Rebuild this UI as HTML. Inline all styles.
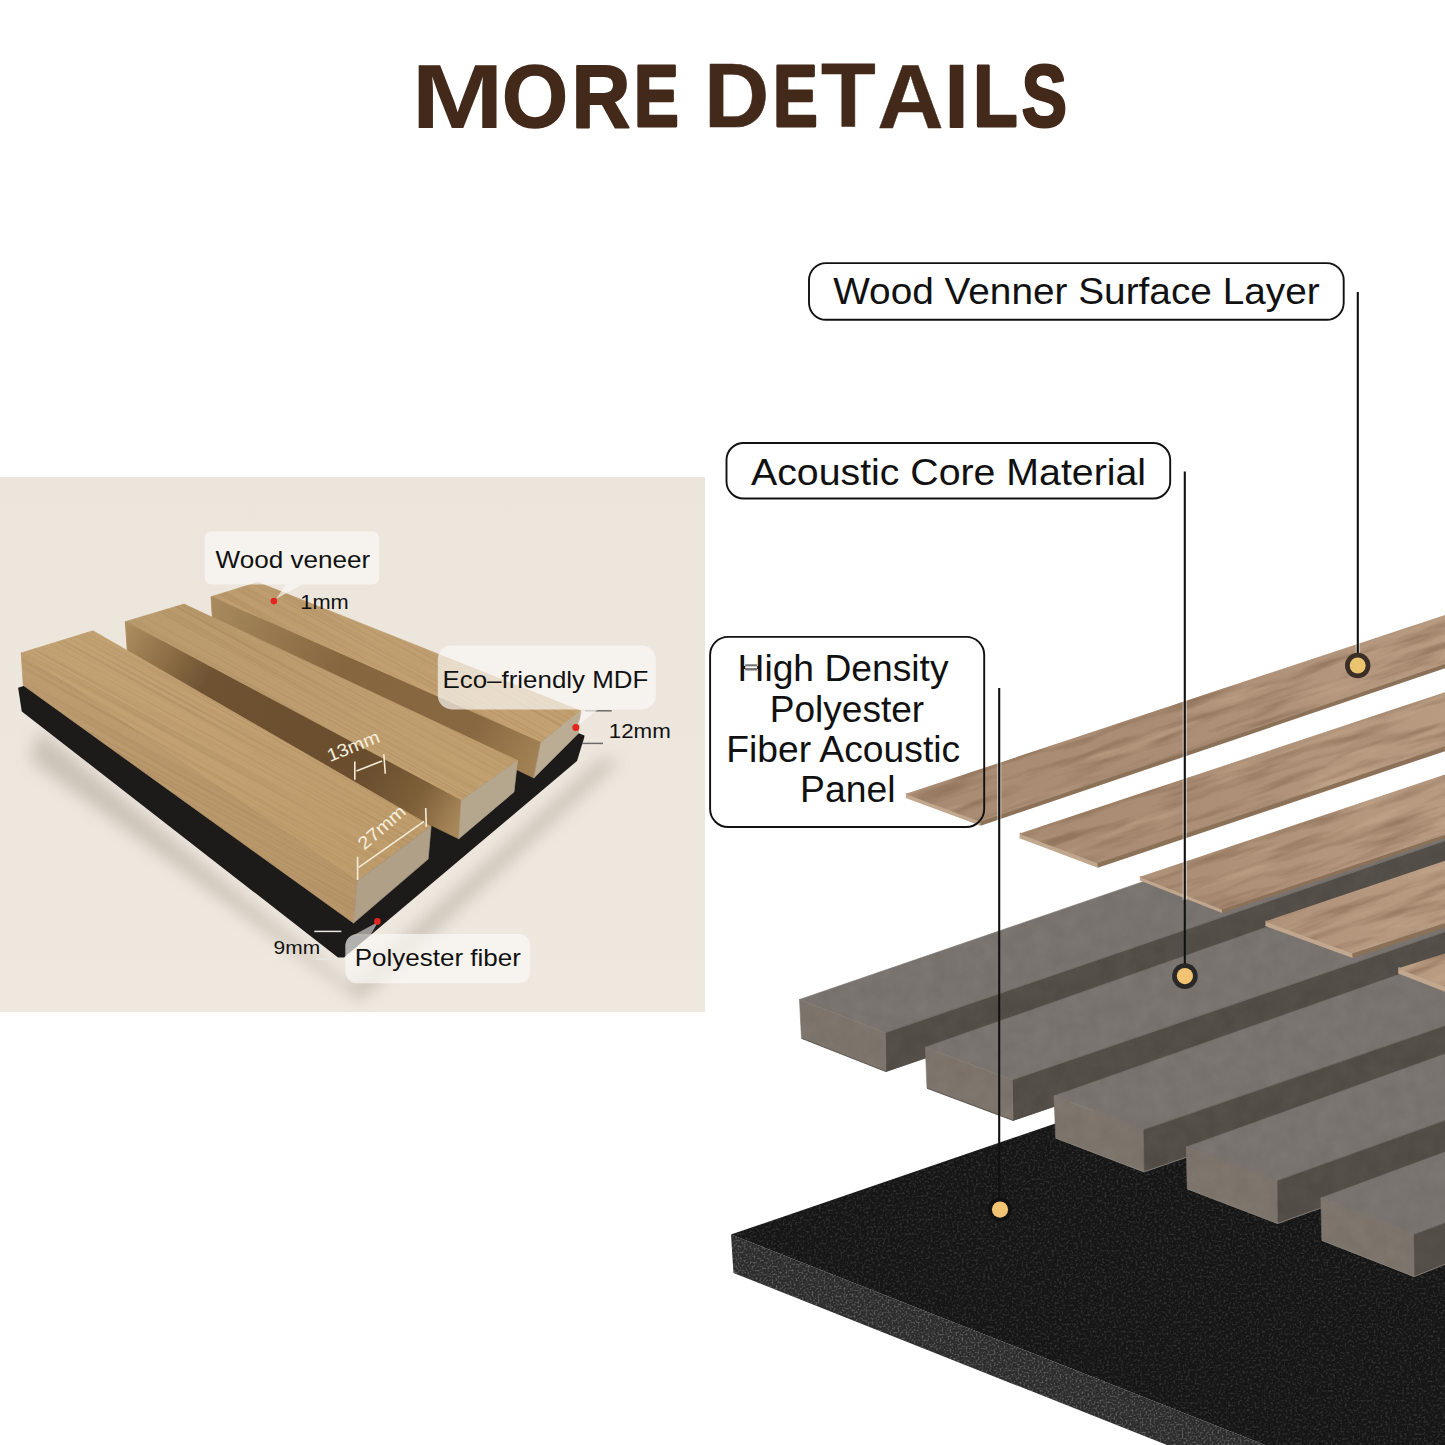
<!DOCTYPE html>
<html><head><meta charset="utf-8">
<style>
html,body{margin:0;padding:0;background:#fff;}
#c{position:relative;width:1445px;height:1445px;overflow:hidden;background:#fff;}
svg{position:absolute;left:0;top:0;display:block;}
text{font-family:"Liberation Sans",sans-serif;}
.mt{fill:#78736e;stroke:#78736e;stroke-width:0.6;}
.ms{fill:#524c47;stroke:#524c47;stroke-width:0.6;}
.mf{fill:#7c736b;stroke:#7c736b;stroke-width:0.6;}
.med{fill:none;stroke:#4a4541;stroke-width:1;stroke-opacity:0.7;}
.me{fill:none;stroke:#8e8780;stroke-width:1;stroke-opacity:0.8;}
.me2{fill:none;stroke:#858079;stroke-width:0.8;stroke-opacity:0.6;}
.vt{fill:url(#vtg);}
.ve{fill:#c2a78f;}
.vs{fill:#8c7159;}
</style></head>
<body><div id="c">
<svg width="1445" height="1445" viewBox="0 0 1445 1445">
<defs>
<linearGradient id="vtg" gradientUnits="userSpaceOnUse" x1="900" y1="0" x2="1445" y2="0"><stop offset="0" stop-color="#a88b72"/><stop offset="0.5" stop-color="#aa8d74"/><stop offset="1" stop-color="#b89b81"/></linearGradient>
<linearGradient id="bgg" x1="0" y1="0" x2="0" y2="1"><stop offset="0" stop-color="#ece5dc"/><stop offset="1" stop-color="#efe8df"/></linearGradient>
<linearGradient id="l1t" x1="0" y1="0" x2="1" y2="1"><stop offset="0" stop-color="#c3a273"/><stop offset="0.5" stop-color="#c2a071"/><stop offset="1" stop-color="#bf9c6a"/></linearGradient>
<linearGradient id="l1s" x1="0" y1="0" x2="1" y2="1"><stop offset="0" stop-color="#bd9c70"/><stop offset="1" stop-color="#b8966a"/></linearGradient>
<linearGradient id="l2t" x1="0" y1="0" x2="1" y2="1"><stop offset="0" stop-color="#b99b6e"/><stop offset="1" stop-color="#c3a170"/></linearGradient>
<linearGradient id="l2s" gradientUnits="userSpaceOnUse" x1="125" y1="630" x2="460" y2="820"><stop offset="0" stop-color="#ab8d60"/><stop offset="0.12" stop-color="#8f7047"/><stop offset="0.25" stop-color="#6e5232"/><stop offset="0.72" stop-color="#694d2d"/><stop offset="0.88" stop-color="#7e6039"/><stop offset="1" stop-color="#a8875a"/></linearGradient>
<linearGradient id="l3t" x1="0" y1="0" x2="1" y2="1"><stop offset="0" stop-color="#bd9d6f"/><stop offset="1" stop-color="#c5a272"/></linearGradient>
<linearGradient id="l3s" gradientUnits="userSpaceOnUse" x1="211" y1="600" x2="540" y2="760"><stop offset="0" stop-color="#a88a5e"/><stop offset="0.4" stop-color="#85663e"/><stop offset="0.8" stop-color="#886840"/><stop offset="1" stop-color="#a38255"/></linearGradient>

<filter id="oakgrain" x="0" y="0" width="1" height="1" color-interpolation-filters="sRGB">
<feTurbulence type="fractalNoise" baseFrequency="0.003 0.55" numOctaves="3" seed="3" result="n"/>
<feColorMatrix type="matrix" values="0 0 0 0 0.45  0 0 0 0 0.33  0 0 0 0 0.18  0 0 0 -2.2 1.25"/>
</filter>
<filter id="blur8" x="-20%" y="-20%" width="140%" height="140%"><feGaussianBlur stdDeviation="8"/></filter>
<filter id="vgrain" x="0" y="0" width="1" height="1" color-interpolation-filters="sRGB">
<feTurbulence type="fractalNoise" baseFrequency="0.012 0.11" numOctaves="4" seed="7"/>
<feColorMatrix type="matrix" values="0 0 0 0 0.50  0 0 0 0 0.38  0 0 0 0 0.29  2.6 0 0 0 -1.15"/>
</filter>
<filter id="vgrain2" x="0" y="0" width="1" height="1" color-interpolation-filters="sRGB">
<feTurbulence type="fractalNoise" baseFrequency="0.01 0.09" numOctaves="3" seed="11"/>
<feColorMatrix type="matrix" values="0 0 0 0 0.85  0 0 0 0 0.74  0 0 0 0 0.62  -2.4 0 0 0 1.0"/>
</filter>
<filter id="speck" x="0" y="0" width="1" height="1" color-interpolation-filters="sRGB">
<feTurbulence type="fractalNoise" baseFrequency="0.42" numOctaves="2" seed="5"/>
<feColorMatrix type="matrix" values="0 0 0 0 0.4  0 0 0 0 0.4  0 0 0 0 0.4  3.2 0 0 0 -1.55"/>
<feGaussianBlur stdDeviation="0.45"/>
</filter>
<filter id="speck2" x="0" y="0" width="1" height="1" color-interpolation-filters="sRGB">
<feTurbulence type="fractalNoise" baseFrequency="0.5" numOctaves="2" seed="9"/>
<feColorMatrix type="matrix" values="0 0 0 0 0.55  0 0 0 0 0.55  0 0 0 0 0.55  3.0 0 0 0 -1.35"/>
<feGaussianBlur stdDeviation="0.4"/>
</filter>




<filter id="mdfn2" x="0" y="0" width="1" height="1" color-interpolation-filters="sRGB">
<feTurbulence type="fractalNoise" baseFrequency="0.06" numOctaves="4" seed="4"/>
<feColorMatrix type="matrix" values="1.2 0 0 0 -0.1  1.2 0 0 0 -0.1  1.2 0 0 0 -0.1  0 0 0 0 0.035"/>
</filter>
<pattern id="pM" patternUnits="userSpaceOnUse" x="0" y="0" width="1445" height="1445">
<rect x="780" y="760" width="680" height="540" filter="url(#mdfn2)"/>
</pattern>
<pattern id="pV" patternUnits="userSpaceOnUse" x="0" y="0" width="1445" height="1445">
<rect x="800" y="450" width="800" height="700" transform="rotate(-18.5 1200 800)" filter="url(#vgrain)" opacity="0.55"/>
<rect x="800" y="450" width="800" height="700" transform="rotate(-18.5 1200 800)" filter="url(#vgrain2)" opacity="0.45"/>
</pattern>
<pattern id="pL" patternUnits="userSpaceOnUse" x="0" y="0" width="1445" height="1445">
<rect x="-200" y="300" width="1100" height="700" transform="rotate(29 300 750)" filter="url(#oakgrain)" opacity="0.2"/>
</pattern>
<pattern id="pBT" patternUnits="userSpaceOnUse" x="0" y="0" width="1445" height="1445">
<rect x="720" y="980" width="730" height="470" filter="url(#speck)" opacity="0.35"/>
</pattern>
<pattern id="pBF" patternUnits="userSpaceOnUse" x="0" y="0" width="1445" height="1445">
<rect x="720" y="1220" width="560" height="230" filter="url(#speck2)" opacity="0.55"/>
</pattern>
</defs>
<!-- Title -->
<g font-size="89" font-weight="bold" fill="#42291a" stroke="#42291a" stroke-linejoin="round">
<text transform="translate(411.20 127.70) scale(1.2500 1.0299)" stroke-width="0.00">M</text>
<text transform="translate(502.04 126.96) scale(0.9540 1.0053)" stroke-width="1.48">O</text>
<text transform="translate(571.65 126.62) scale(0.9103 0.9939)" stroke-width="2.18">R</text>
<text transform="translate(634.09 126.23) scale(0.7528 0.9810)" stroke-width="3.00">E</text>
<text transform="translate(704.01 127.39) scale(1.0145 1.0197)" stroke-width="0.60">D</text>
<text transform="translate(772.99 126.23) scale(0.7528 0.9810)" stroke-width="3.00">E</text>
<text transform="translate(821.09 127.33) scale(1.0057 1.0177)" stroke-width="0.72">T</text>
<text transform="translate(877.13 127.52) scale(1.0333 1.0240)" stroke-width="0.35">A</text>
<text transform="translate(945.03 126.80) scale(0.9333 1.0000)" stroke-width="1.80">I</text>
<text transform="translate(973.24 126.23) scale(0.8143 0.9810)" stroke-width="3.00">L</text>
<text transform="translate(1021.74 126.23) scale(0.7607 0.9810)" stroke-width="3.00">S</text>
</g>

<!-- ===== LEFT PHOTO ===== -->
<g id="photo">
<rect x="0" y="477" width="705" height="535" fill="url(#bgg)"/>
<!-- shadow under felt -->
<polygon points="40,730 350,985 600,760 620,760 360,1000 30,760" fill="#8c8070" opacity="0.35" filter="url(#blur8)"/>
<!-- felt -->
<polygon points="18.1,687.8 262,608 584.4,735.5 584.4,737 577,761 344,957.5 338,957.5 21.8,711.4" fill="#1d1b1a"/>
<!-- L3 -->
<polygon points="211,596.8 257.8,582.3 580.6,710.8 540.8,742.6" fill="url(#l3t)" stroke="url(#l3t)" stroke-width="0.8"/>
<polygon points="211,596.8 540.8,742.6 533.9,777.9 480,752 213,628" fill="url(#l3s)" stroke="url(#l3s)" stroke-width="0.8"/>
<polygon points="540.8,742.6 580.6,710.8 578.2,733.6 533.9,777.9" fill="#bbad94" stroke="#bbad94" stroke-width="0.6"/>
<!-- L2 -->
<polygon points="125.3,621.7 184.1,604.1 517.6,760.6 461.2,800.6" fill="url(#l2t)" stroke="url(#l2t)" stroke-width="0.8"/>
<polygon points="125.3,621.7 461.2,800.6 458.8,838.8 400,810 128,662" fill="url(#l2s)" stroke="url(#l2s)" stroke-width="0.8"/>
<polygon points="461.2,800.6 517.6,760.6 514,792 458.8,838.8" fill="#b5a78d" stroke="#b5a78d" stroke-width="0.6"/>
<!-- L1 -->
<polygon points="21.2,652.9 93,630.8 431.1,826.2 357.4,880.9" fill="url(#l1t)" stroke="url(#l1t)" stroke-width="0.8"/>
<polygon points="21.2,652.9 357.4,880.9 353.6,923 23.3,685.3" fill="url(#l1s)" stroke="url(#l1s)" stroke-width="0.8"/>
<polygon points="357.4,880.9 431.1,826.2 428.2,859.1 353.6,923" fill="#afa087" stroke="#afa087" stroke-width="0.6"/>
<!-- grain overlays -->
<g fill="url(#pL)">
<polygon points="211,596.8 257.8,582.3 580.6,710.8 540.8,742.6"/>
<polygon points="125.3,621.7 184.1,604.1 517.6,760.6 461.2,800.6"/>
<polygon points="21.2,652.9 93,630.8 431.1,826.2 357.4,880.9"/>
<polygon points="21.2,652.9 357.4,880.9 353.6,923 23.3,685.3"/>
</g>
<!-- dimension marks -->
<g stroke="#f3ecd8" stroke-width="1.6" fill="none">
<line x1="354.8" y1="761.5" x2="354.8" y2="779.8"/>
<line x1="383.8" y1="754.3" x2="385.3" y2="773.7"/>
<line x1="356.5" y1="770.9" x2="382" y2="761"/>
<line x1="357.6" y1="856.8" x2="357.6" y2="880"/>
<line x1="425.7" y1="808" x2="426.3" y2="826.9"/>
<line x1="358.7" y1="867.3" x2="424" y2="821.3"/>
</g>
<g fill="#f5efdc" font-size="18">
<text transform="translate(329.9 762.1) rotate(-21.9)" textLength="55" lengthAdjust="spacingAndGlyphs">13mm</text>
<text transform="translate(364.3 850.7) rotate(-41.1)" textLength="57" lengthAdjust="spacingAndGlyphs">27mm</text>
</g>
<!-- 12mm / 9mm lines -->
<g stroke="#6d6a66" stroke-width="1.5">
<line x1="584.8" y1="710.8" x2="611.7" y2="710.8"/>
<line x1="582.2" y1="743.4" x2="603" y2="743.4"/>
</g>
<g stroke="#e9e6e0" stroke-width="1.5">
<line x1="314.3" y1="931.4" x2="341.4" y2="931.4"/>
<line x1="316.2" y1="959.1" x2="343.3" y2="959.1"/>
</g>
<!-- label boxes -->
<g fill="#fbf9f6" fill-opacity="0.68">
<rect x="204.7" y="531.2" width="174.4" height="53.3" rx="7"/>
<polygon points="276,599 286,584.5 302,584.5"/>
<rect x="437.8" y="645.4" width="218" height="64" rx="14"/>
<polygon points="577,726 584,709.4 598,709.4"/>
<rect x="345.3" y="933.9" width="185" height="49.4" rx="12"/>
</g>
<polygon points="378,922 352,936 370,936" fill="#b9b6b2" fill-opacity="0.8"/>
<g fill="#e0261f">
<circle cx="273.9" cy="601.1" r="3.3"/>
<circle cx="575.8" cy="727.4" r="3.5"/>
<circle cx="377.4" cy="921.4" r="3.3"/>
</g>
<g fill="#111">
<text x="215.6" y="567.9" font-size="24" textLength="154.5" lengthAdjust="spacingAndGlyphs">Wood veneer</text>
<text x="300.3" y="608.7" font-size="21" textLength="48.5" lengthAdjust="spacingAndGlyphs">1mm</text>
<text x="442.5" y="687.8" font-size="24" textLength="205.8" lengthAdjust="spacingAndGlyphs">Eco&#8211;friendly MDF</text>
<text x="608.8" y="738" font-size="20.8" textLength="62" lengthAdjust="spacingAndGlyphs">12mm</text>
<text x="354.7" y="965.9" font-size="24" textLength="166.3" lengthAdjust="spacingAndGlyphs">Polyester fiber</text>
<text x="273.6" y="954.3" font-size="18.7" textLength="46.5" lengthAdjust="spacingAndGlyphs">9mm</text>
</g>
</g>

<!-- ===== RIGHT DIAGRAM ===== -->
<g id="diagram">
<!-- black panel -->
<polygon points="731,1234.5 1460,985 1460,1445 1265,1445" fill="#161616"/>
<polygon points="731,1234.5 1265,1445 1167,1445 733.5,1273" fill="#2b2b2b"/>
<polygon points="731,1234.5 1460,985 1460,1445 1265,1445" fill="url(#pBT)"/>
<polygon points="731,1234.5 1265,1445 1167,1445 733.5,1273" fill="url(#pBF)"/>
<!-- MDF slats -->
<g id="slats">
<polygon class="mt" points="799.5,999.5 885.2,1032.7 1460.0,835.5 1460.0,772.9"/>
<polygon class="ms" points="885.2,1032.7 885.9,1071.5 1460.0,874.6 1460.0,835.5"/>
<polygon class="mf" points="799.5,999.5 885.2,1032.7 885.9,1071.5 801.5,1038.3"/>
<polygon fill="url(#pM)" points="799.5,999.5 1460.0,772.9 1460.0,874.6 885.9,1071.5 801.5,1038.3"/>
<polyline class="med" points="801.5,1038.3 885.9,1071.5 1460.0,874.6"/>
<polyline class="me2" points="799.5,999.5 885.2,1032.7 1460.0,835.5"/>
<polygon class="mt" points="925.3,1047.3 1012.1,1079.9 1460.0,926.7 1460.0,859.1"/>
<polygon class="ms" points="1012.1,1079.9 1013.1,1120.4 1460.0,967.6 1460.0,926.7"/>
<polygon class="mf" points="925.3,1047.3 1012.1,1079.9 1013.1,1120.4 927.0,1088.2"/>
<polygon fill="url(#pM)" points="925.3,1047.3 1460.0,859.1 1460.0,967.6 1013.1,1120.4 927.0,1088.2"/>
<polyline class="med" points="927.0,1088.2 1013.1,1120.4 1460.0,967.6"/>
<polyline class="me2" points="925.3,1047.3 1012.1,1079.9 1460.0,926.7"/>
<polygon class="mt" points="1054.0,1095.9 1143.3,1129.8 1460.0,1020.5 1460.0,953.0"/>
<polygon class="ms" points="1143.3,1129.8 1144.0,1171.9 1460.0,1062.9 1460.0,1020.5"/>
<polygon class="mf" points="1054.0,1095.9 1143.3,1129.8 1144.0,1171.9 1055.7,1138.0"/>
<polygon fill="url(#pM)" points="1054.0,1095.9 1460.0,953.0 1460.0,1062.9 1144.0,1171.9 1055.7,1138.0"/>
<polyline class="me" points="1055.7,1138.0 1144.0,1171.9 1460.0,1062.9"/>
<polyline class="me2" points="1054.0,1095.9 1143.3,1129.8 1460.0,1020.5"/>
<polygon class="mt" points="1186.3,1147.0 1277.0,1180.7 1460.0,1115.0 1460.0,1048.7"/>
<polygon class="ms" points="1277.0,1180.7 1277.6,1223.5 1460.0,1158.0 1460.0,1115.0"/>
<polygon class="mf" points="1186.3,1147.0 1277.0,1180.7 1277.6,1223.5 1187.2,1188.8"/>
<polygon fill="url(#pM)" points="1186.3,1147.0 1460.0,1048.7 1460.0,1158.0 1277.6,1223.5 1187.2,1188.8"/>
<polyline class="me" points="1187.2,1188.8 1277.6,1223.5 1460.0,1158.0"/>
<polyline class="me2" points="1186.3,1147.0 1277.0,1180.7 1460.0,1115.0"/>
<polygon class="mt" points="1320.8,1198.0 1413.7,1234.6 1460.0,1217.0 1460.0,1146.5"/>
<polygon class="ms" points="1413.7,1234.6 1414.2,1276.6 1460.0,1258.3 1460.0,1217.0"/>
<polygon class="mf" points="1320.8,1198.0 1413.7,1234.6 1414.2,1276.6 1321.8,1240.3"/>
<polygon fill="url(#pM)" points="1320.8,1198.0 1460.0,1146.5 1460.0,1258.3 1414.2,1276.6 1321.8,1240.3"/>
<polyline class="me" points="1321.8,1240.3 1414.2,1276.6 1460.0,1258.3"/>
<polyline class="me2" points="1320.8,1198.0 1413.7,1234.6 1460.0,1217.0"/>
</g>
<!-- veneers -->
<g id="veneers">
<polygon class="vs" points="977.1,820.2 980.7,825.7 1460.0,663.2 1460.0,657.5"/>
<polygon class="ve" points="906.3,792.9 980.1,820.2 980.7,825.7 905.7,798.1"/>
<polygon class="vt" points="905.3,794.1 980.1,821.7 1460.0,659.0 1460.0,609.9"/>
<polygon class="vs" points="1094.2,861.8 1097.8,867.8 1460.0,746.1 1460.0,739.9"/>
<polygon class="ve" points="1020.0,832.5 1097.2,861.8 1097.8,867.8 1019.4,838.2"/>
<polygon class="vt" points="1019.0,833.7 1097.2,863.3 1460.0,741.4 1460.0,687.3"/>
<polygon class="vs" points="1218.5,908.0 1222.1,913.0 1460.0,833.3 1460.0,828.1"/>
<polygon class="ve" points="1140.3,875.8 1221.5,908.0 1222.1,913.0 1139.7,880.5"/>
<polygon class="vt" points="1139.3,877.0 1221.5,909.5 1460.0,829.6 1460.0,769.6"/>
<polygon class="vs" points="1349.0,952.0 1352.6,958.0 1460.0,922.8 1460.0,916.6"/>
<polygon class="ve" points="1265.8,920.4 1352.0,952.0 1352.6,958.0 1265.2,926.1"/>
<polygon class="vt" points="1264.8,921.6 1352.0,953.5 1460.0,918.1 1460.0,855.6"/>
<polygon class="ve" points="1398.5,967 1460,991.2 1460,997.7 1398.1,973.4"/>
<polygon class="vt" points="1397.7,968.4 1460,992.7 1460,948.8"/>
<g fill="url(#pV)">
<polygon points="905.3,794.1 980.1,821.7 1460.0,659.0 1460.0,609.9"/>
<polygon points="1019.0,833.7 1097.2,863.3 1460.0,741.4 1460.0,687.3"/>
<polygon points="1139.3,877.0 1221.5,909.5 1460.0,829.6 1460.0,769.6"/>
<polygon points="1264.8,921.6 1352.0,953.5 1460.0,918.1 1460.0,855.6"/>
<polygon points="1397.7,968.4 1460,992.7 1460,948.8"/>
</g>
</g>
</g>

<!-- callouts -->
<g fill="none" stroke="#111" stroke-width="1.9">
<rect x="809" y="263.1" width="534.7" height="56.7" rx="17" fill="#fff"/>
<rect x="726.5" y="443" width="443.7" height="55.5" rx="17" fill="#fff"/>
<rect x="710.1" y="636.9" width="274.1" height="190.1" rx="18" fill="none"/>
</g>
<g stroke="#fff" stroke-width="4.5" stroke-opacity="0.4">
<line x1="1357.8" y1="615" x2="1357.8" y2="655"/>
<line x1="1184.8" y1="700" x2="1184.8" y2="900"/>
<line x1="999.2" y1="755" x2="999.2" y2="825"/>
</g>
<g stroke="#111" stroke-width="2.1">
<line x1="1357.8" y1="292" x2="1357.8" y2="660"/>
<line x1="1184.8" y1="471.5" x2="1184.8" y2="970"/>
<line x1="999.2" y1="688" x2="999.2" y2="1203"/>
</g>
<g>
<circle cx="1357.7" cy="665.5" r="12.7" fill="#3a2e26"/><circle cx="1357.7" cy="665.5" r="8" fill="#eac46e"/>
<circle cx="1184.9" cy="976.1" r="12.8" fill="#2a2826"/><circle cx="1184.9" cy="976.1" r="8.1" fill="#f0c472"/>
<circle cx="1000" cy="1209.6" r="12" fill="#111"/><circle cx="1000" cy="1209.6" r="8.1" fill="#f0c472"/>
</g>
<g font-size="37" fill="#111">
<text x="833.2" y="304.1" textLength="486.5" lengthAdjust="spacingAndGlyphs">Wood Venner Surface Layer</text>
<text x="751" y="485" textLength="395" lengthAdjust="spacingAndGlyphs">Acoustic Core Material</text>
</g>
<g font-size="36.5" fill="#111" lengthAdjust="spacingAndGlyphs">
<text x="737.5" y="681" textLength="211" lengthAdjust="spacingAndGlyphs">High Density</text>
<text x="769.7" y="722" textLength="154.5" lengthAdjust="spacingAndGlyphs">Polyester</text>
<text x="726.2" y="762" textLength="234" lengthAdjust="spacingAndGlyphs">Fiber Acoustic</text>
<text x="800.1" y="802" textLength="95.5" lengthAdjust="spacingAndGlyphs">Panel</text>
</g>
<rect x="745.2" y="664.3" width="12" height="1.8" fill="#6e6e6e"/>
<rect x="745.2" y="666.2" width="12" height="2.3" fill="#fff"/>
<rect x="745.2" y="668.6" width="12" height="1.9" fill="#6e6e6e"/>
</svg>
</div></body></html>
